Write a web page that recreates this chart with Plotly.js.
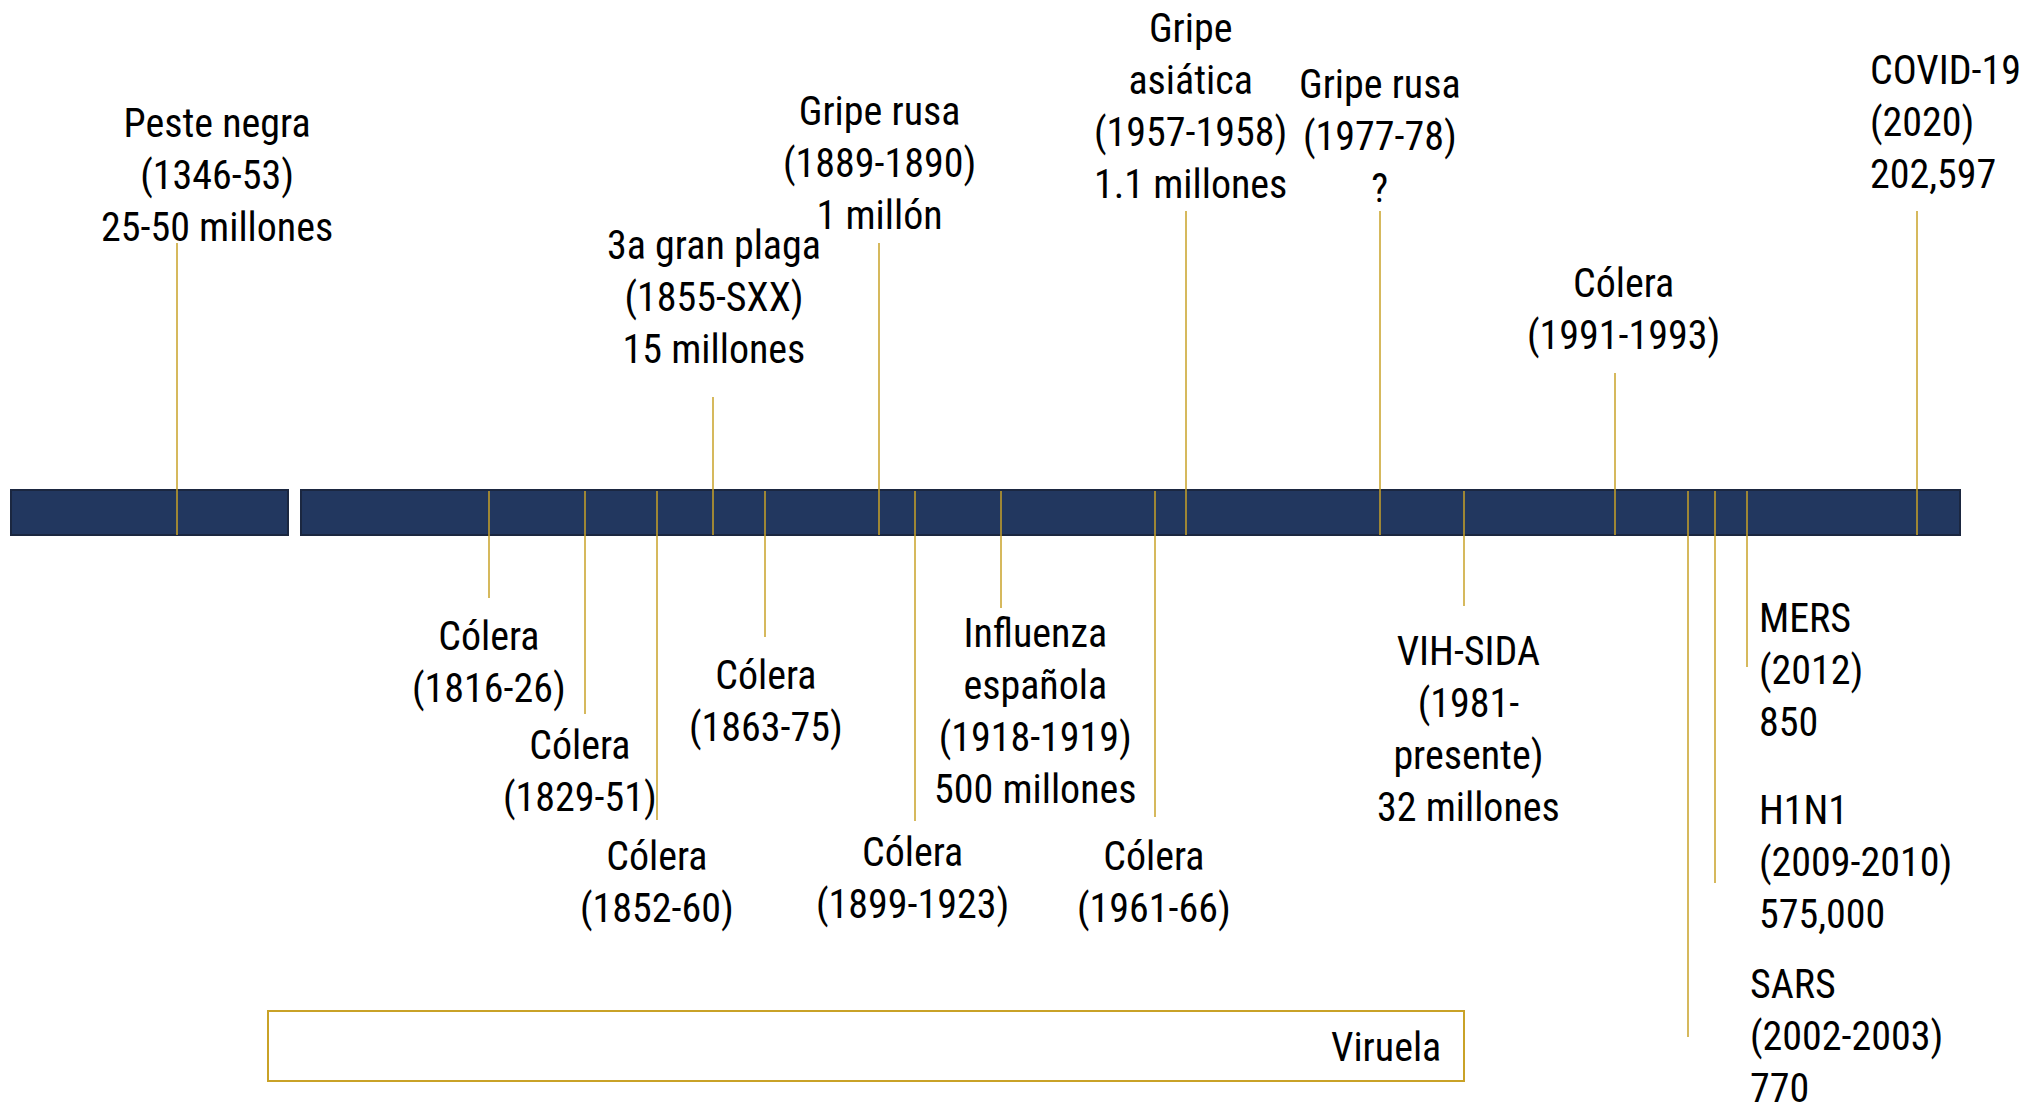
<!DOCTYPE html>
<html>
<head>
<meta charset="utf-8">
<script src="https://cdn.plot.ly/plotly-3.0.1.min.js"></script>
<style>
  html, body { margin: 0; padding: 0; background: #ffffff; overflow: hidden; }
  #chart { width: 2033px; height: 1120px; }
</style>
</head>
<body>
<div id="chart"></div>
<script>
// ---- Data: epidemics on the timeline ----
// Events drawn above the timeline bar
const aboveLabels = [
  "Peste negra<br>(1346-53)<br>25-50 millones",
  "3a gran plaga<br>(1855-SXX)<br>15 millones",
  "Gripe rusa<br>(1889-1890)<br>1 millón",
  "Gripe<br>asiática<br>(1957-1958)<br>1.1 millones",
  "Gripe rusa<br>(1977-78)<br>?",
  "Cólera<br>(1991-1993)",
  "COVID-19<br>(2020)<br>202,597"
];
// Events drawn below the timeline bar
const belowLabels = [
  "Cólera<br>(1816-26)",
  "Cólera<br>(1829-51)",
  "Cólera<br>(1852-60)",
  "Cólera<br>(1863-75)",
  "Cólera<br>(1899-1923)",
  "Influenza<br>española<br>(1918-1919)<br>500 millones",
  "Cólera<br>(1961-66)",
  "VIH-SIDA<br>(1981-<br>presente)<br>32 millones",
  "SARS<br>(2002-2003)<br>770",
  "H1N1<br>(2009-2010)<br>575,000",
  "MERS<br>(2012)<br>850"
];
const spanLabel = "Viruela";

// ---- Layout of the diagram (diagram units = pixels of the canvas) ----
const W = 2033, H = 1120;
const barSegments = [[11, 288], [301, 1960]];
const barTop = 490, barBottom = 535;

const aboveStemX   = [177, 713, 879, 1186, 1380, 1615, 1917];
const aboveStemTop = [243, 397, 243, 211, 211, 373, 211];
const aboveTextX   = [217, 714, 879, 1190, 1380, 1623, 1868];
const aboveTextY   = [175, 297, 163, 106, 136, 309, 122];
const aboveAlign   = ["center","center","center","center","center","center","left"];

const belowStemX   = [489, 585, 657, 765, 915, 1001, 1155, 1464, 1688, 1715, 1747];
const belowStemEnd = [598, 714, 820, 637, 821, 608, 817, 606, 1037, 883, 667];
const belowTextX   = [489, 580, 657, 766, 912, 1035, 1154, 1468, 1748, 1757, 1757];
const belowTextY   = [662, 771, 882, 701, 878, 711, 882, 729, 1036, 862, 670];
const belowAlign   = ["center","center","center","center","center","center","center","center","left","left","left"];

const spanBox = [268, 1464, 1011, 1081];
const spanTextX = 1443, spanTextY = 1047;

const NAVY = "#22375f", NAVY_EDGE = "#1b2740", GOLD = "#c9a227";
const FONT = "'Liberation Sans Narrow', 'Arial Narrow', 'Roboto Condensed', 'Liberation Sans', Arial, sans-serif";
const FS = 40;

// ---- Build traces ----
const sx = [], sy = [];
aboveStemX.forEach((x, i) => { sx.push(x, x, null); sy.push(aboveStemTop[i], barBottom, null); });
belowStemX.forEach((x, i) => { sx.push(x, x, null); sy.push(barTop + 1, belowStemEnd[i], null); });

const traces = [{
  type: "scatter", mode: "lines", x: sx, y: sy,
  line: { color: GOLD, width: 1.5 }, hoverinfo: "skip", showlegend: false
}];

const shapes = barSegments.map(s => ({
  type: "rect", xref: "x", yref: "y", x0: s[0], x1: s[1], y0: barTop, y1: barBottom,
  fillcolor: NAVY, line: { color: NAVY_EDGE, width: 2 }, layer: "below"
}));
shapes.push({
  type: "rect", xref: "x", yref: "y", x0: spanBox[0], x1: spanBox[1], y0: spanBox[2], y1: spanBox[3],
  fillcolor: "rgba(0,0,0,0)", line: { color: GOLD, width: 2 }, layer: "below"
});

const annotations = [];
aboveLabels.forEach((t, i) => annotations.push({
  x: aboveTextX[i], y: aboveTextY[i], xref: "x", yref: "y", text: t, showarrow: false,
  xanchor: aboveAlign[i], yanchor: "middle", align: aboveAlign[i],
  font: { family: FONT, size: FS, color: "#000000" }
}));
belowLabels.forEach((t, i) => annotations.push({
  x: belowTextX[i], y: belowTextY[i], xref: "x", yref: "y", text: t, showarrow: false,
  xanchor: belowAlign[i], yanchor: "middle", align: belowAlign[i],
  font: { family: FONT, size: FS, color: "#000000" }
}));
annotations.push({
  x: spanTextX, y: spanTextY, xref: "x", yref: "y", text: spanLabel, showarrow: false,
  xanchor: "right", yanchor: "middle", align: "right",
  font: { family: FONT, size: FS, color: "#000000" }
});

const layout = {
  width: W, height: H,
  margin: { l: 0, r: 0, t: 0, b: 0, pad: 0 },
  paper_bgcolor: "#ffffff", plot_bgcolor: "#ffffff",
  xaxis: { range: [0, W], visible: false, fixedrange: true },
  yaxis: { range: [H, 0], visible: false, fixedrange: true },
  shapes: shapes,
  annotations: annotations,
  showlegend: false
};

Plotly.newPlot("chart", traces, layout, { staticPlot: true, displayModeBar: false });
</script>
</body>
</html>
